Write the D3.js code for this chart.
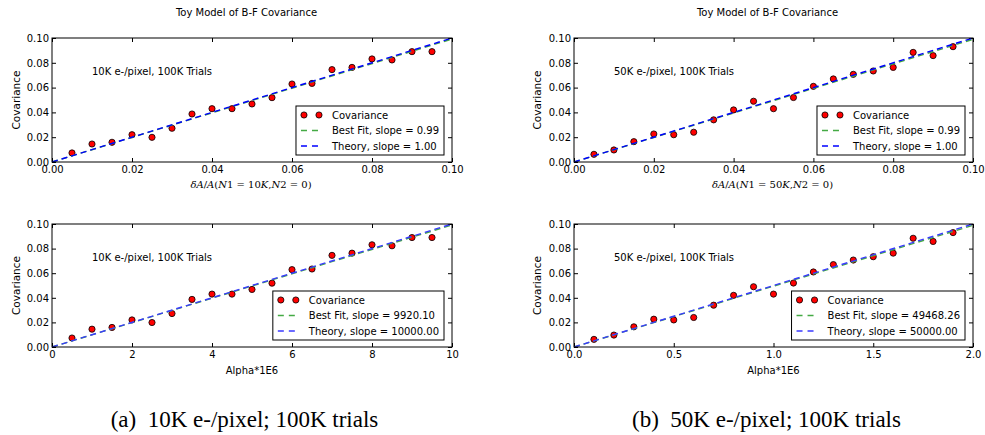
<!DOCTYPE html>
<html>
<head>
<meta charset="utf-8">
<script src="https://cdn.jsdelivr.net/npm/d3@7"></script>
<style>
  html, body { margin: 0; padding: 0; background: #fff; }
  svg { display: block; }
  text { font-family: "DejaVu Sans", sans-serif; fill: #000; }
</style>
</head>
<body>
<svg id="chart" width="985" height="435"></svg>
<script>
// ---------------- DATA ----------------
const chartTitle = "Toy Model of B-F Covariance";
const xFrac = [0.005, 0.010, 0.015, 0.020, 0.025, 0.030, 0.035, 0.040, 0.045, 0.050,
               0.055, 0.060, 0.065, 0.070, 0.075, 0.080, 0.085, 0.090, 0.095];
const xAlpha10K = [0.5, 1.0, 1.5, 2.0, 2.5, 3.0, 3.5, 4.0, 4.5, 5.0,
                   5.5, 6.0, 6.5, 7.0, 7.5, 8.0, 8.5, 9.0, 9.5];
const xAlpha50K = [0.1, 0.2, 0.3, 0.4, 0.5, 0.6, 0.7, 0.8, 0.9, 1.0,
                   1.1, 1.2, 1.3, 1.4, 1.5, 1.6, 1.7, 1.8, 1.9];
const cov10K = [0.0073, 0.0145, 0.0159, 0.0220, 0.0199, 0.0272, 0.0387, 0.0430, 0.0430, 0.0468,
                0.0519, 0.0629, 0.0634, 0.0745, 0.0763, 0.0831, 0.0823, 0.0890, 0.0890];
const cov50K = [0.0062, 0.0097, 0.0164, 0.0226, 0.0220, 0.0240, 0.0340, 0.0420, 0.0490, 0.0430,
                0.0520, 0.0610, 0.0670, 0.0707, 0.0734, 0.0763, 0.0884, 0.0858, 0.0930];
const fitSlopeFrac = [0.99201, 0.98937];      // 10K, 50K
const theorySlopeFrac = [1.00, 1.00];
const fitSlopeAlpha = [9920.10, 49468.26];     // per 1E6 alpha units
const theorySlopeAlpha = [10000.00, 50000.00];
const electronLabels = ["10K", "50K"];
const annotationTexts = ["10K e-/pixel, 100K Trials", "50K e-/pixel, 100K Trials"];
const captionTags = ["(a)", "(b)"];
const captionTexts = ["10K e-/pixel; 100K trials", "50K e-/pixel; 100K trials"];
const yTicks = [0.00, 0.02, 0.04, 0.06, 0.08, 0.10];
const xTicksFrac = [0.00, 0.02, 0.04, 0.06, 0.08, 0.10];
const xTicksAlpha10K = [0, 2, 4, 6, 8, 10];
const xTicksAlpha50K = [0.0, 0.5, 1.0, 1.5, 2.0];
const alphaAxisLabel = "Alpha*1E6";
const yAxisLabel = "Covariance";
const seriesNames = ["Covariance", "Best Fit, slope = ", "Theory, slope = "];

// ---------------- LAYOUT ----------------
const svg = d3.select("#chart");
const cols = [{l: 52, r: 452, title: 246.5, ylab: 16, cap: 244.5},
              {l: 574, r: 973, title: 767.5, ylab: 537, cap: 766.5}];
const rows = [{t: 38, b: 162}, {t: 224, b: 347}];
const greenC = "#44aa44";

const panels = [];
[0, 1].forEach(ci => {
  panels.push({col: ci, row: 0, xs: xFrac, ys: ci === 0 ? cov10K : cov50K,
    domain: [0, 0.1], ticks: xTicksFrac, fmt: d3.format(".2f"),
    fit: fitSlopeFrac[ci], theory: theorySlopeFrac[ci], scale: 1, blue: "#0000ff"});
  panels.push({col: ci, row: 1, xs: ci === 0 ? xAlpha10K : xAlpha50K, ys: ci === 0 ? cov10K : cov50K,
    domain: ci === 0 ? [0, 10] : [0, 2], ticks: ci === 0 ? xTicksAlpha10K : xTicksAlpha50K,
    fmt: ci === 0 ? d3.format("d") : d3.format(".1f"),
    fit: fitSlopeAlpha[ci], theory: theorySlopeAlpha[ci], scale: 1e-6, blue: "#3a3aff"});
});

panels.forEach((p, i) => {
  const c = cols[p.col], r = rows[p.row];
  const x = d3.scaleLinear().domain(p.domain).range([c.l, c.r]);
  const y = d3.scaleLinear().domain([0, 0.1]).range([r.b, r.t]);
  const g = svg.append("g");
  const clipId = "clip" + i;
  svg.append("clipPath").attr("id", clipId).append("rect")
    .attr("x", c.l).attr("y", r.t).attr("width", c.r - c.l).attr("height", r.b - r.t);

  // axes (inward ticks on all sides)
  const fs = "10px";
  const ax = (gen, tr) => {
    const a = g.append("g").attr("transform", tr).call(gen);
    a.select(".domain").remove();
    a.selectAll("text").attr("font-size", fs).attr("font-family", "DejaVu Sans");
    a.selectAll("line").attr("stroke", "#000");
    return a;
  };
  ax(d3.axisBottom(x).tickValues(p.ticks).tickFormat(p.fmt).tickSizeInner(-4).tickSizeOuter(0).tickPadding(4),
     `translate(0,${r.b})`);
  ax(d3.axisTop(x).tickValues(p.ticks).tickFormat("").tickSizeInner(-4).tickSizeOuter(0),
     `translate(0,${r.t})`);
  ax(d3.axisLeft(y).tickValues(yTicks).tickFormat(d3.format(".2f")).tickSizeInner(-4).tickSizeOuter(0).tickPadding(3),
     `translate(${c.l},0)`);
  ax(d3.axisRight(y).tickValues(yTicks).tickFormat("").tickSizeInner(-4).tickSizeOuter(0),
     `translate(${c.r},0)`);

  // points
  const pts = g.append("g").attr("clip-path", `url(#${clipId})`);
  pts.selectAll("circle").data(p.xs.map((xv, k) => [xv, p.ys[k]])).join("circle")
    .attr("cx", d => x(d[0])).attr("cy", d => y(d[1])).attr("r", 3.1)
    .attr("fill", "#ff0000").attr("stroke", "#000").attr("stroke-width", 0.8);

  // lines
  const line = d3.line().x(d => x(d[0])).y(d => y(d[1]));
  const lineData = s => [[p.domain[0], s * p.domain[0] * p.scale], [p.domain[1], s * p.domain[1] * p.scale]];
  pts.append("path").attr("d", line(lineData(p.fit))).attr("fill", "none")
    .attr("stroke", greenC).attr("stroke-width", 1.4).attr("stroke-dasharray", "6,4");
  pts.append("path").attr("d", line(lineData(p.theory))).attr("fill", "none")
    .attr("stroke", p.blue).attr("stroke-width", 1.4).attr("stroke-dasharray", "6,4");

  // frame
  g.append("rect").attr("x", c.l).attr("y", r.t).attr("width", c.r - c.l).attr("height", r.b - r.t)
    .attr("fill", "none").attr("stroke", "#000").attr("stroke-width", 1);

  // annotation
  g.append("text").attr("x", c.l + 40).attr("y", y(0.07))
    .attr("font-size", "10px").text(annotationTexts[p.col]);

  // y label
  g.append("text").attr("transform", `translate(${c.ylab},${(r.t + r.b) / 2}) rotate(-90)`)
    .attr("text-anchor", "middle").attr("dy", "0.35em").attr("font-size", "10.5px").text(yAxisLabel);

  // x label
  const xmid = (c.l + c.r) / 2;
  if (p.row === 1) {
    g.append("text").attr("x", xmid).attr("y", r.b + 27).attr("text-anchor", "middle")
      .attr("font-size", "10px").text(alphaAxisLabel);
  } else {
    const t = g.append("text").attr("x", xmid - 1).attr("y", r.b + 26).attr("text-anchor", "middle")
      .attr("font-size", "10px").style("font-family", "'DejaVu Serif', serif");
    const parts = [["δA", 1], ["/", 0], ["A", 1], ["(", 0], ["N", 1], ["1 = " + electronLabels[p.col].replace("K", ""), 0],
                   ["K", 1], [",", 0], ["N", 1], ["2 = 0)", 0]];
    parts.forEach(([s, it]) => t.append("tspan").attr("font-style", it ? "italic" : "normal").text(s));
  }

  // legend
  const lg = g.append("g");
  const fmt2 = d3.format(".2f");
  const labels = [seriesNames[0], seriesNames[1] + fmt2(p.row === 0 ? Math.round(p.fit * 100) / 100 : p.fit),
                  seriesNames[2] + fmt2(p.theory)];
  const box = lg.append("rect").attr("fill", "#fff").attr("stroke", "#000").attr("stroke-width", 1);
  const texts = labels.map((s, k) => lg.append("text").attr("font-size", "10px").text(s));
  const tw = d3.max(texts, t => t.node().getComputedTextLength());
  const bw = 36 + tw + 5, bh = 49;
  const bx = c.r - 8 - bw, by = r.b - 7 - bh;
  box.attr("x", bx).attr("y", by).attr("width", bw).attr("height", bh);
  const rowY = [by + 9, by + 24.5, by + 40];
  texts.forEach((t, k) => t.attr("x", bx + 36).attr("y", rowY[k]).attr("dy", "0.35em"));
  [bx + 8, bx + 23].forEach(mx => lg.append("circle").attr("cx", mx).attr("cy", rowY[0]).attr("r", 3.1)
    .attr("fill", "#ff0000").attr("stroke", "#000").attr("stroke-width", 0.8));
  lg.append("line").attr("x1", bx + 5).attr("x2", bx + 26).attr("y1", rowY[1]).attr("y2", rowY[1])
    .attr("stroke", greenC).attr("stroke-width", 1.4).attr("stroke-dasharray", "6,5");
  lg.append("line").attr("x1", bx + 5).attr("x2", bx + 26).attr("y1", rowY[2]).attr("y2", rowY[2])
    .attr("stroke", p.blue).attr("stroke-width", 1.4).attr("stroke-dasharray", "6,5");
});

// titles and captions
cols.forEach((c, ci) => {
  svg.append("text").attr("x", c.title).attr("y", 16).attr("text-anchor", "middle")
    .attr("font-size", "10px").text(chartTitle);
  svg.append("text").attr("x", c.cap).attr("y", 427).attr("text-anchor", "middle")
    .style("font-family", "'Liberation Serif', 'Times New Roman', serif").attr("font-size", "23px")
    .text(captionTags[ci] + "\u00A0\u00A0" + captionTexts[ci]);
});
</script>
</body>
</html>
